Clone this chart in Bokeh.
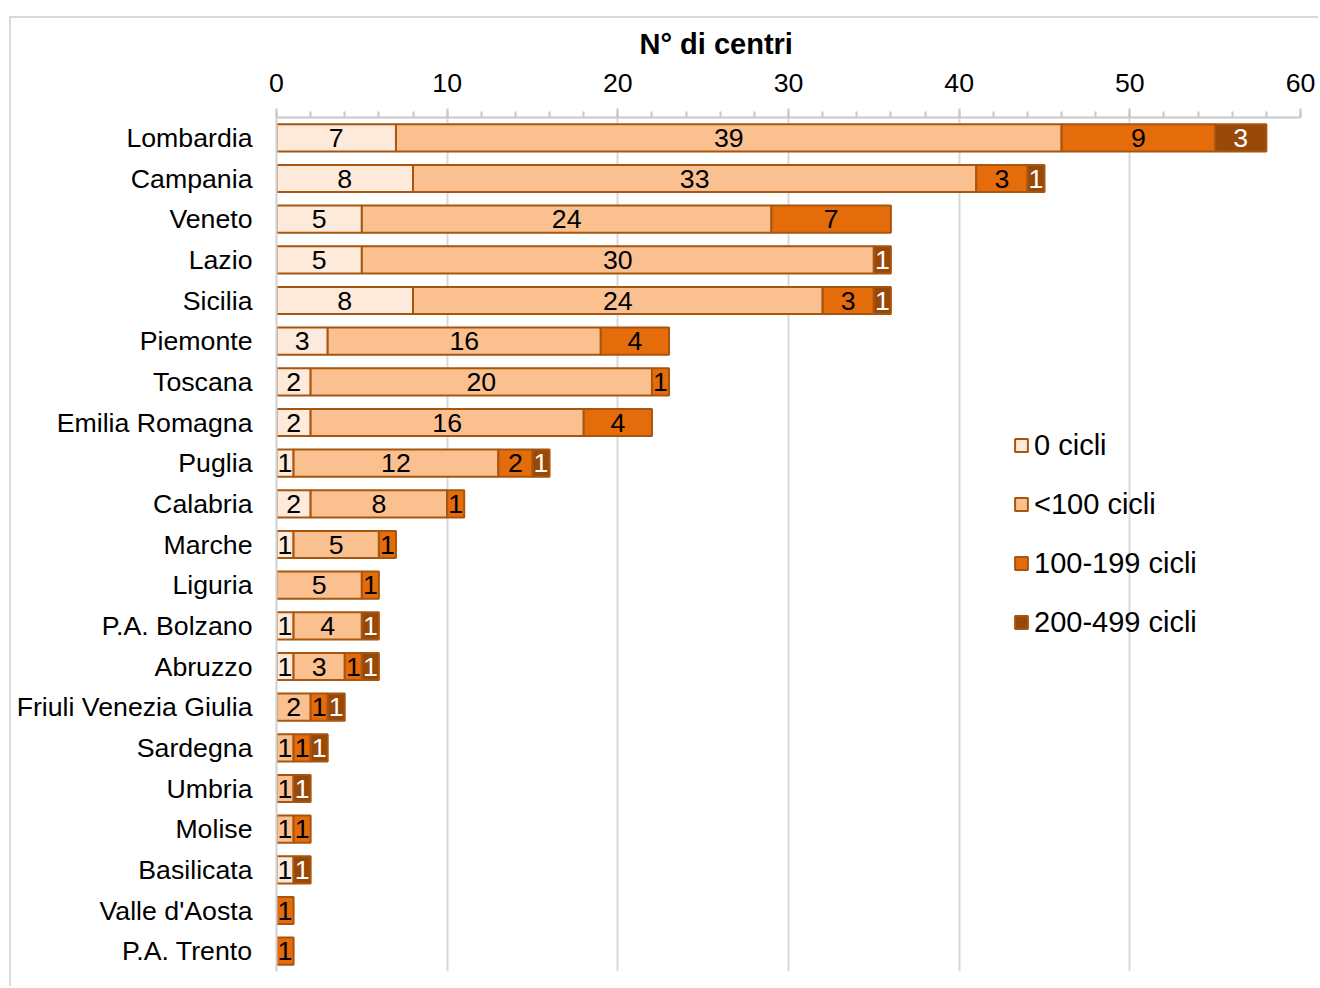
from bokeh.plotting import figure
from bokeh.models import (FactorRange, Range1d, FixedTicker, LinearAxis, Legend, LegendItem,
                          Title, ColumnDataSource)
from bokeh.core.properties import value
from bokeh.embed import file_html
from bokeh.resources import INLINE

regions = ["Lombardia", "Campania", "Veneto", "Lazio", "Sicilia", "Piemonte", "Toscana",
           "Emilia Romagna", "Puglia", "Calabria", "Marche", "Liguria", "P.A. Bolzano",
           "Abruzzo", "Friuli Venezia Giulia", "Sardegna", "Umbria", "Molise", "Basilicata",
           "Valle d'Aosta", "P.A. Trento"]
cicli_0 = [7, 8, 5, 5, 8, 3, 2, 2, 1, 2, 1, 0, 1, 1, 0, 0, 0, 0, 1, 0, 0]
cicli_lt100 = [39, 33, 24, 30, 24, 16, 20, 16, 12, 8, 5, 5, 4, 3, 2, 1, 1, 1, 0, 0, 0]
cicli_100_199 = [9, 3, 7, 0, 3, 4, 1, 4, 2, 1, 1, 1, 0, 1, 1, 1, 0, 1, 0, 1, 1]
cicli_200_499 = [3, 1, 0, 1, 1, 0, 0, 0, 1, 0, 0, 0, 1, 1, 1, 1, 1, 0, 1, 0, 0]
series_names = ["0 cicli", "<100 cicli", "100-199 cicli", "200-499 cicli"]
x_ticks = [0, 10, 20, 30, 40, 50, 60]
axis_title = "N° di centri"

series = [cicli_0, cicli_lt100, cicli_100_199, cicli_200_499]
fills = ["#fdeada", "#fac090", "#e46c0a", "#984807"]
label_colors = ["#000000", "#000000", "#000000", "#ffffff"]
FONT = "Liberation Sans"
FS = "26.7px"

# canvas starts at page (11, 18) because of margin + css border
W, H = 1309, 970
p = figure(width=W, height=H, output_backend="svg", toolbar_location=None,
           y_range=FactorRange(factors=regions[::-1]), x_range=Range1d(0, 60),
           x_axis_location=None, min_border_left=265, min_border_right=20,
           min_border_top=99, min_border_bottom=17)
p.margin = (16, 0, 0, 9)
p.styles = {"border-left": "2px solid #d9d9d9", "border-top": "2px solid #d9d9d9"}
p.outline_line_color = None
p.background_fill_color = None
p.border_fill_color = "white"

t = Title(text=axis_title, align="left", offset=363, text_font=FONT,
          text_font_size="29px", text_font_style="bold", text_color="#000000",
          standoff=18, vertical_align="top")
p.title = t

# top axis
xa = LinearAxis(ticker=FixedTicker(ticks=x_ticks, minor_ticks=list(range(0, 61, 2))))
xa.axis_line_color = "#c8c8c8"
xa.axis_line_width = 2
xa.major_tick_line_color = "#c8c8c8"
xa.major_tick_line_width = 2
xa.major_tick_out = 9
xa.major_tick_in = 0
xa.minor_tick_line_color = "#c8c8c8"
xa.minor_tick_line_width = 2
xa.minor_tick_out = 6
xa.minor_tick_in = 0
xa.major_label_text_font = FONT
xa.major_label_text_font_size = FS
xa.major_label_text_color = "#000000"
xa.major_label_standoff = 17
p.add_layout(xa, "above")

p.xgrid.ticker = FixedTicker(ticks=x_ticks)
p.xgrid.grid_line_color = "#d9d9d9"
p.xgrid.grid_line_width = 2
p.ygrid.grid_line_color = None

ya = p.yaxis[0]
ya.axis_line_color = "#d0d0d0"
ya.axis_line_width = 2
ya.major_tick_line_color = None
ya.minor_tick_line_color = None
ya.major_label_text_font = FONT
ya.major_label_text_font_size = FS
ya.major_label_text_color = "#000000"
ya.major_label_standoff = 18

items = []
cum = [0] * len(regions)
for name, vals, fc, tc in zip(series_names, series, fills, label_colors):
    ys, lefts, rights, mids, txt = [], [], [], [], []
    for i, v in enumerate(vals):
        if v > 0:
            ys.append(regions[i])
            lefts.append(cum[i])
            rights.append(cum[i] + v)
            mids.append(cum[i] + v / 2)
            txt.append(str(v))
        cum[i] += v
    src = ColumnDataSource(dict(y=ys, left=lefts, right=rights, mid=mids, txt=txt))
    r = p.hbar(y="y", left="left", right="right", height=0.67, source=src,
               fill_color=fc, line_color="#a8560f", line_width=2)
    p.text(x="mid", y="y", text="txt", source=src, text_align="center",
           text_baseline="middle", text_font=value(FONT), text_font_size=FS,
           text_color=tc)
    items.append(LegendItem(label=name, renderers=[r]))

legend = Legend(items=items, location=(737, 331))
legend.border_line_color = None
legend.background_fill_alpha = 0
legend.padding = 0
legend.margin = 0
legend.glyph_width = 16
legend.glyph_height = 16
legend.label_height = 36
legend.spacing = 23
legend.label_standoff = 5
legend.label_text_font = FONT
legend.label_text_font_size = "29px"
legend.label_text_color = "#000000"
p.add_layout(legend, "center")

open("out.html", "w").write(file_html(p, INLINE))
